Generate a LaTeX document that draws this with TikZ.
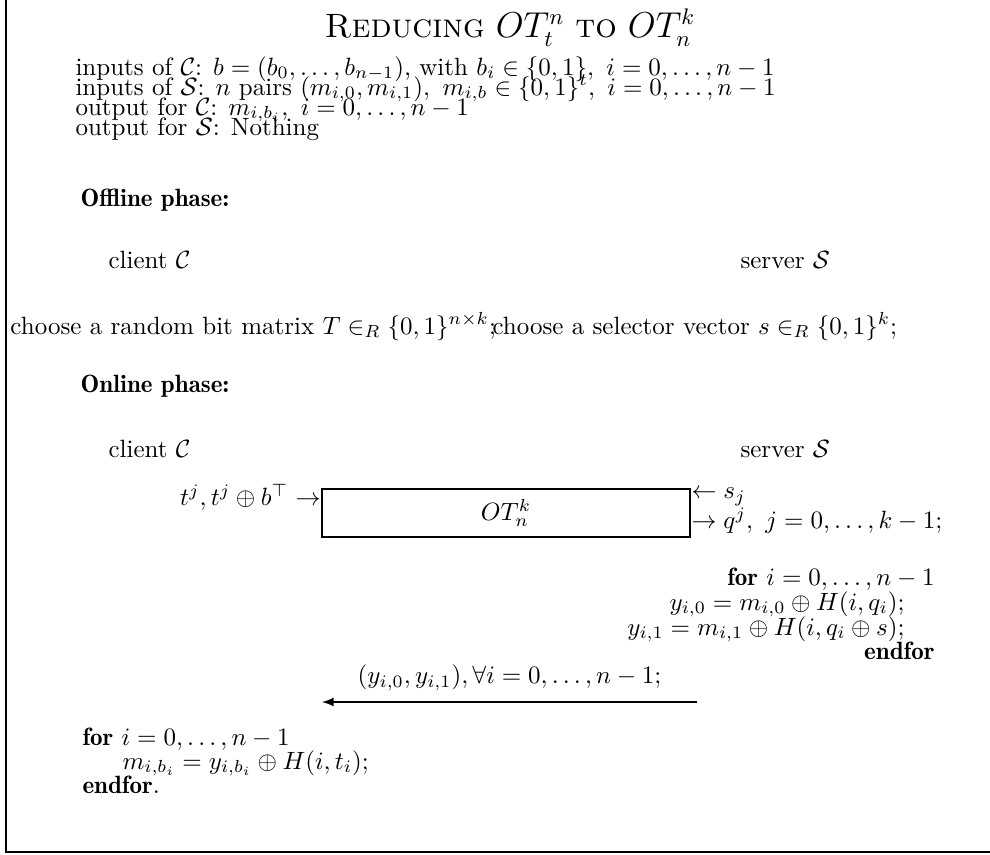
\documentclass[tikz,border=0pt]{standalone}
\usepackage{amsmath,amssymb}
\usetikzlibrary{arrows}

\newcommand{\kw}[1]{{\fontseries{b}\selectfont #1}}

\begin{document}
\begin{tikzpicture}[x=0.4pt,y=-0.4pt,
  bodytxt/.style={anchor=base west,inner sep=0pt},
  rbodytxt/.style={anchor=base east,inner sep=0pt}]
\useasboundingbox (0,0) rectangle (990,854);
\draw[semithick] (6,0) -- (6,852) -- (990,852);

\node[font=\fontsize{13.5}{16}\selectfont,inner sep=0pt] (title) at (510,28) {\textsc{Reducing} $OT_t^n$ \textsc{to} $OT_n^k$};

\node[bodytxt] (inC) at (75,75) {inputs of $\mathcal{C}$: $b=(b_0,\ldots,b_{n-1})$, with $b_i\in\{0,1\},\ i=0,\ldots,n-1$};
\node[bodytxt] (inS) at (75,95) {inputs of $\mathcal{S}$: $n$ pairs $(m_{i,0},m_{i,1}),\ m_{i,b}\in\{0,1\}^t,\ i=0,\ldots,n-1$};
\node[bodytxt] (outC) at (75,115) {output for $\mathcal{C}$: $m_{i,b_i},\ i=0,\ldots,n-1$};
\node[bodytxt] (outS) at (75,135) {output for $\mathcal{S}$: Nothing};

\node[bodytxt] (off) at (80,206) {\kw{Offline phase:}};
\node[bodytxt] (cli1) at (108,268) {client $\mathcal{C}$};
\node[bodytxt] (srv1) at (740,268) {server $\mathcal{S}$};
\node[bodytxt] (chT) at (10,334) {choose a random bit matrix $T\in_R\{0,1\}^{n\times k}$;};
\node[bodytxt] (chs) at (492,334) {choose a selector vector $s\in_R\{0,1\}^k$;};

\node[bodytxt] (on) at (80,392) {\kw{Online phase:}};
\node[bodytxt] (cli2) at (108,457) {client $\mathcal{C}$};
\node[bodytxt] (srv2) at (740,457) {server $\mathcal{S}$};

\node[draw,semithick,minimum width=147.2pt,minimum height=19.2pt] (ot) at (506,513) {$OT_n^k$};
\node[anchor=east,inner sep=0pt] (tin) at (321,497) {$t^j,t^j\oplus b^\top\rightarrow$};
\node[anchor=west,inner sep=0pt] (sin) at (691,497) {$\leftarrow s_j$};
\node[anchor=west,inner sep=0pt] (qout) at (691,521) {$\rightarrow q^j,\ j=0,\ldots,k-1;$};

\node[rbodytxt] (forS) at (935,585) {\kw{for} $i=0,\ldots,n-1$};
\node[rbodytxt] (y0) at (905,610) {$y_{i,0}=m_{i,0}\oplus H(i,q_i);$};
\node[rbodytxt] (y1) at (905,635) {$y_{i,1}=m_{i,1}\oplus H(i,q_i\oplus s);$};
\node[rbodytxt] (endS) at (935,659) {\kw{endfor}};

\coordinate (msgS) at (697,702);
\coordinate (msgC) at (322,702);
\draw[-latex,semithick] (msgS) -- (msgC) node[midway,above=1pt]{$(y_{i,0},y_{i,1}),\forall i=0,\ldots,n-1;$};

\node[bodytxt] (forC) at (82,745) {\kw{for} $i=0,\ldots,n-1$};
\node[bodytxt] (mC) at (122,769) {$m_{i,b_i}=y_{i,b_i}\oplus H(i,t_i);$};
\node[bodytxt] (endC) at (82,793) {\kw{endfor}.};
\end{tikzpicture}
\end{document}
